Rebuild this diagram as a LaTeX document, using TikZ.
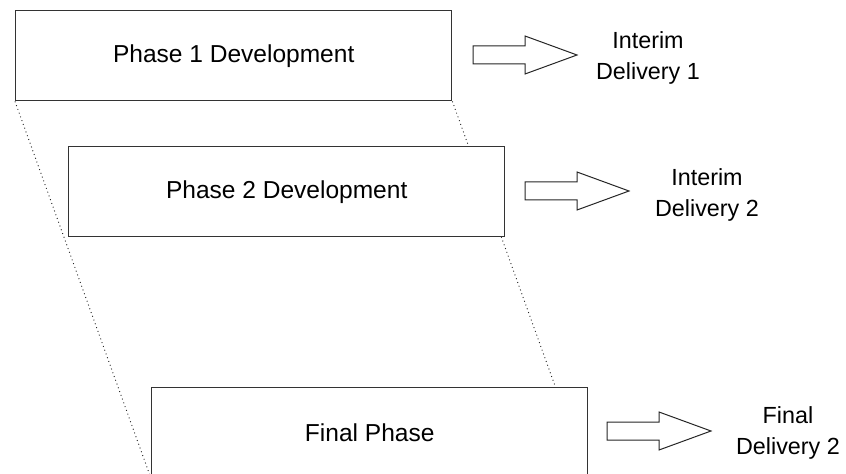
\documentclass[tikz,border=0pt]{standalone}
\usepackage{fontspec}
\setmainfont{Liberation Sans}
\usetikzlibrary{backgrounds}
\begin{document}
\begin{tikzpicture}[x=0.75pt,y=-0.75pt,
  phasebox/.style={draw=black!80, line width=1.05pt, fill=white, inner sep=0pt,
    minimum width=327pt, minimum height=67.5pt,
    font=\fontsize{18.4}{22}\selectfont, anchor=north west},
  deliv/.style={align=center, inner sep=0pt, font=\fontsize{17.5}{23.25}\selectfont},
  dotline/.style={draw=black!85, line width=0.7pt, dash pattern=on 0.7pt off 2.3pt},
  arrowline/.style={draw=black!85, line width=0.75pt, fill=white},
  blockarrow/.pic={\draw[arrowline] (0,-9) -- (52,-9) -- (52,-19) -- (104,0) -- (52,19) -- (52,9) -- (0,9) -- cycle;}
]
\useasboundingbox (0,0) rectangle (846,474);
\begin{scope}
\clip (0,0) rectangle (846,474);
\node[phasebox] (p1) at (15,10) {Phase 1 Development};
\node[phasebox] (p2) at (68,146) {Phase 2 Development};
\node[phasebox] (p3) at (151,387) {Final Phase};
\end{scope}
\begin{scope}[on background layer]
\clip (0,0) rectangle (846,474);
\draw[dotline] (p1.south west) -- (p3.south west);
\draw[dotline] (p1.south east) -- (p3.south east);
\end{scope}
\pic at (473,55) {blockarrow};
\pic at (525,191) {blockarrow};
\pic at (607,431) {blockarrow};
\node[deliv] (d1) at (648,58) {Interim\\Delivery 1};
\node[deliv] (d2) at (707,195) {Interim\\Delivery 2};
\node[deliv] (d3) at (788,433) {Final\\Delivery 2};
\end{tikzpicture}
\end{document}
